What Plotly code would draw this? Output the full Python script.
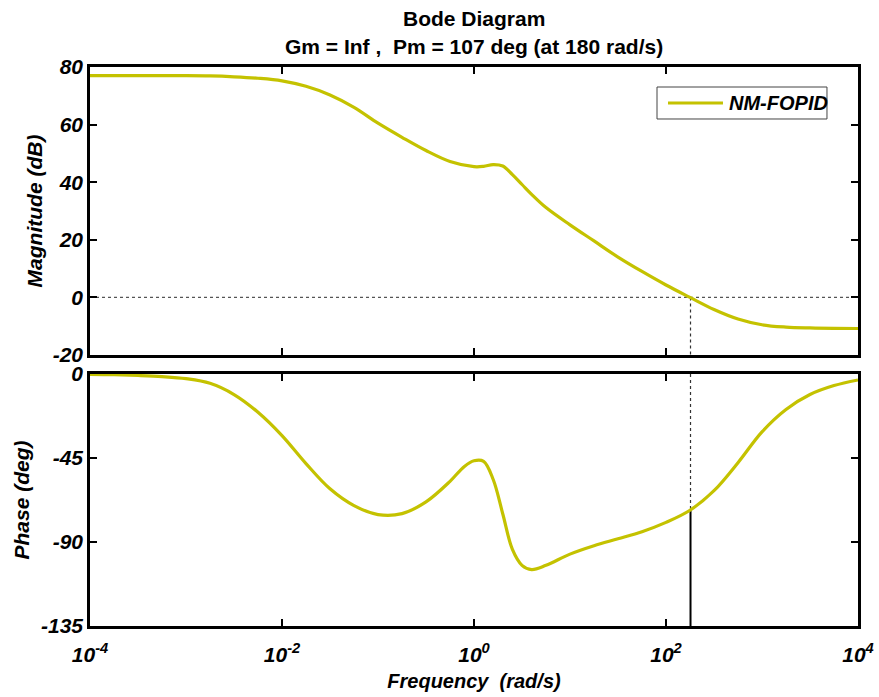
import plotly.graph_objects as go

# Open-loop frequency response of the NM-FOPID loop (log10 of frequency in rad/s)
mag_logw = [-4.0, -3.5, -3.0, -2.75, -2.5, -2.25, -2.0, -1.75, -1.5, -1.25, -1.0,
            -0.75, -0.5, -0.25, 0.0, 0.1, 0.2, 0.3, 0.4, 0.5, 0.6, 0.75, 1.0,
            1.25, 1.5, 1.75, 2.0, 2.25, 2.5, 2.75, 3.0, 3.25, 3.5, 3.75, 4.0]
mag_db = [77.0, 77.0, 77.0, 76.9, 76.6, 76.1, 75.2, 73.3, 70.3, 66.0, 60.5,
          55.6, 51.0, 47.2, 45.4, 45.5, 46.1, 45.6, 42.6, 39.2, 35.8, 31.2, 25.2,
          19.6, 14.0, 9.0, 4.3, 0.0, -4.2, -7.5, -9.5, -10.3, -10.6, -10.75, -10.8]

phase_logw = [-4.0, -3.75, -3.5, -3.25, -3.0, -2.75, -2.5, -2.25, -2.0, -1.75, -1.5,
              -1.25, -1.0, -0.75, -0.5, -0.25, -0.1, 0.0, 0.1, 0.2, 0.3, 0.4, 0.5,
              0.6, 0.75, 1.0, 1.25, 1.5, 1.75, 2.0, 2.25, 2.5, 2.75, 3.0, 3.25,
              3.5, 3.75, 4.0]
phase_deg = [-0.2, -0.4, -0.8, -1.4, -2.5, -5.0, -11.0, -20.5, -33.0, -48.0, -61.5,
             -70.5, -75.3, -74.8, -68.5, -57.5, -49.5, -46.5, -46.8, -56.5, -75.0, -94.0, -102.5,
             -104.8, -102.5, -96.5, -92.0, -88.3, -84.5, -79.5, -73.0, -62.5, -47.5, -31.0, -19.0,
             -11.0, -6.2, -3.2]

# Stability margins
gain_margin = "Inf"
phase_margin = 107
crossover_w = 180

mag_ticks = [-20, 0, 20, 40, 60, 80]
phase_ticks = [-135, -90, -45, 0]
freq_ticks = [1e-4, 1e-2, 1e0, 1e2, 1e4]
freq_ticktext = ["10<sup>-4</sup>", "10<sup>-2</sup>", "10<sup>0</sup>",
                 "10<sup>2</sup>", "10<sup>4</sup>"]
series_name = "NM-FOPID"

line_color = "#C4C200"
w_mag = [10 ** v for v in mag_logw]
w_phase = [10 ** v for v in phase_logw]
phase_at_wc = phase_margin - 180

FONT = "Liberation Sans, Arial, sans-serif"

fig = go.Figure()

# 0 dB reference line
fig.add_trace(go.Scatter(x=[1e-4, 1e4], y=[0, 0], mode="lines",
                         line=dict(color="#555555", width=1.2, dash="dot"),
                         showlegend=False, hoverinfo="skip", xaxis="x", yaxis="y"))
# crossover marker on magnitude plot
fig.add_trace(go.Scatter(x=[crossover_w, crossover_w], y=[0, -20], mode="lines",
                         line=dict(color="#333333", width=1.2, dash="dot"),
                         showlegend=False, hoverinfo="skip", xaxis="x", yaxis="y"))

fig.add_trace(go.Scatter(x=w_mag, y=mag_db, mode="lines", name=series_name,
                         line=dict(color=line_color, width=3.2, shape="spline", smoothing=1.0),
                         showlegend=False, xaxis="x", yaxis="y"))

# phase margin markers
fig.add_trace(go.Scatter(x=[crossover_w, crossover_w], y=[0, phase_at_wc], mode="lines",
                         line=dict(color="#333333", width=1.2, dash="dot"),
                         showlegend=False, hoverinfo="skip", xaxis="x2", yaxis="y2"))
fig.add_trace(go.Scatter(x=[crossover_w, crossover_w], y=[phase_at_wc, -135], mode="lines",
                         line=dict(color="black", width=2),
                         showlegend=False, hoverinfo="skip", xaxis="x2", yaxis="y2"))

fig.add_trace(go.Scatter(x=w_phase, y=phase_deg, mode="lines", name=series_name,
                         line=dict(color=line_color, width=3.2, shape="spline", smoothing=1.0),
                         showlegend=False, xaxis="x2", yaxis="y2"))

tick_font = dict(family=FONT, size=21, color="black", weight="bold", style="italic")
title_font = dict(family=FONT, size=21, color="black", weight="bold", style="italic")

axis_common = dict(showline=True, linecolor="black", linewidth=2.5, mirror="ticks",
                   ticks="inside", ticklen=7, tickwidth=2, tickcolor="black",
                   showgrid=False, zeroline=False, tickfont=tick_font, automargin=False)

fig.update_layout(
    width=879, height=697,
    margin=dict(l=90, r=21, t=67, b=71),
    paper_bgcolor="white", plot_bgcolor="white",
    xaxis=dict(type="log", range=[-4, 4], domain=[0, 1], anchor="y",
               tickvals=freq_ticks, showticklabels=False, **axis_common),
    yaxis=dict(range=[-20, 80], domain=[0.4848, 1], anchor="x",
               tickvals=mag_ticks, ticktext=[str(v) for v in mag_ticks],
               title=dict(text="Magnitude (dB)", font=title_font, standoff=5),
               **axis_common),
    xaxis2=dict(type="log", range=[-4, 4], domain=[0, 1], anchor="y2",
                tickvals=freq_ticks, ticktext=freq_ticktext, ticklabelstandoff=8,
                title=dict(text="Frequency\u00a0\u00a0(rad/s)",
                           font=dict(family=FONT, size=20, color="black",
                                     weight="bold", style="italic"),
                           standoff=10),
                **axis_common),
    yaxis2=dict(range=[-135, 0], domain=[0, 0.4508], anchor="x2",
                tickvals=phase_ticks, ticktext=[str(v) for v in phase_ticks],
                title=dict(text="Phase (deg)", font=title_font, standoff=6),
                **axis_common),
    showlegend=False,
)

# legend box for the response curve
fig.add_shape(type="rect", xref="paper", yref="paper",
              x0=0.7383, x1=0.9596, y0=0.907, y1=0.9642,
              line=dict(color="#444444", width=1), fillcolor="white", layer="above")
fig.add_shape(type="line", xref="paper", yref="paper",
              x0=0.7526, x1=0.8242, y0=0.9356, y1=0.9356,
              line=dict(color=line_color, width=3.2), layer="above")
fig.add_annotation(text=series_name, xref="paper", yref="paper",
                   x=0.8294, y=0.9356, xanchor="left", yanchor="middle",
                   showarrow=False,
                   font=dict(family=FONT, size=20, color="black",
                             weight="bold", style="italic"))

fig.add_annotation(text="Bode Diagram", xref="paper", yref="paper",
                   x=0.5, y=1, yshift=49, xanchor="center", yanchor="middle",
                   showarrow=False,
                   font=dict(family=FONT, size=21, color="black", weight="bold"))
fig.add_annotation(text=f"Gm = {gain_margin} ,\u00a0\u00a0Pm = {phase_margin} deg (at {crossover_w} rad/s)",
                   xref="paper", yref="paper",
                   x=0.5, y=1, yshift=21, xanchor="center", yanchor="middle",
                   showarrow=False,
                   font=dict(family=FONT, size=21, color="black", weight="bold"))

fig.write_html("out.html")
